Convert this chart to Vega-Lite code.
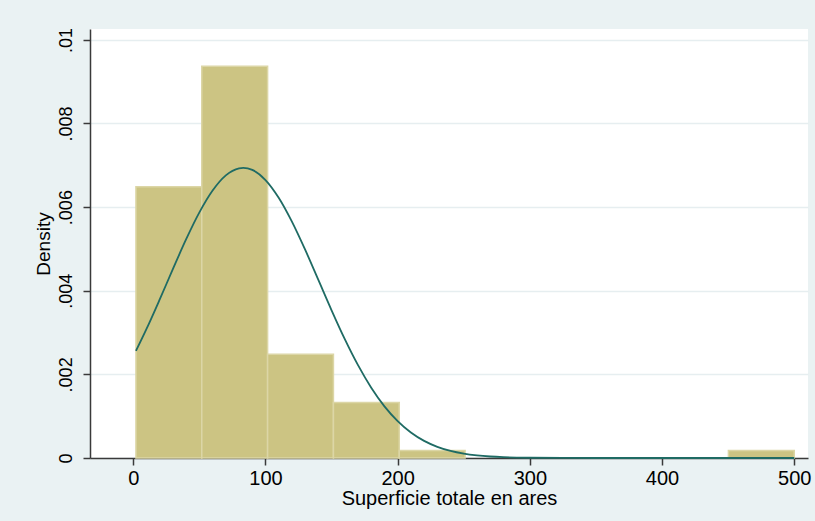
{
  "$schema": "https://vega.github.io/schema/vega-lite/v6.json",
  "width": 718,
  "height": 429,
  "autosize": {"type": "none"},
  "padding": {"left": 90, "top": 29, "right": 7, "bottom": 63},
  "background": "#EAF2F3",
  "config": {
    "view": {"stroke": null, "fill": "white"},
    "font": "Liberation Sans",
    "axis": {
      "domainColor": "#3a3a3a",
      "domainWidth": 1.5,
      "tickColor": "#3a3a3a",
      "tickWidth": 1.5,
      "tickSize": 7,
      "labelColor": "#000000",
      "titleColor": "#000000",
      "titleFontWeight": "normal",
      "labelFont": "Liberation Sans",
      "titleFont": "Liberation Sans"
    }
  },
  "datasets": {
    "bars": [
      {"bin_start": 2, "bin_end": 51.8, "density": 0.00649},
      {"bin_start": 51.8, "bin_end": 101.6, "density": 0.00937},
      {"bin_start": 101.6, "bin_end": 151.4, "density": 0.00248},
      {"bin_start": 151.4, "bin_end": 201.2, "density": 0.00133},
      {"bin_start": 201.2, "bin_end": 251, "density": 0.00018},
      {"bin_start": 450.2, "bin_end": 500, "density": 0.00018}
    ],
    "curve": [
      {"x": 2, "y": 0.002560},
      {"x": 10, "y": 0.003086},
      {"x": 20, "y": 0.003792},
      {"x": 30, "y": 0.004522},
      {"x": 40, "y": 0.005232},
      {"x": 50, "y": 0.005873},
      {"x": 60, "y": 0.006396},
      {"x": 70, "y": 0.006758},
      {"x": 80, "y": 0.006927},
      {"x": 83.2, "y": 0.006938},
      {"x": 90, "y": 0.006890},
      {"x": 100, "y": 0.006648},
      {"x": 110, "y": 0.006224},
      {"x": 120, "y": 0.005653},
      {"x": 130, "y": 0.004982},
      {"x": 140, "y": 0.004259},
      {"x": 150, "y": 0.003533},
      {"x": 160, "y": 0.002843},
      {"x": 170, "y": 0.002220},
      {"x": 180, "y": 0.001682},
      {"x": 190, "y": 0.001236},
      {"x": 200, "y": 0.000882},
      {"x": 210, "y": 0.000610},
      {"x": 220, "y": 0.000409},
      {"x": 230, "y": 0.000267},
      {"x": 240, "y": 0.000168},
      {"x": 250, "y": 0.000103},
      {"x": 260, "y": 0.0000614},
      {"x": 270, "y": 0.0000354},
      {"x": 280, "y": 0.0000198},
      {"x": 290, "y": 0.0000108},
      {"x": 300, "y": 0.0000057},
      {"x": 325, "y": 0.0000010},
      {"x": 350, "y": 0.0000001},
      {"x": 400, "y": 0},
      {"x": 450, "y": 0},
      {"x": 500, "y": 0}
    ]
  },
  "layer": [
    {
      "data": {"name": "bars"},
      "mark": {"type": "rect", "fill": "#CCC483", "stroke": "#DCD6A6", "strokeWidth": 1.5},
      "encoding": {
        "x": {
          "field": "bin_start",
          "type": "quantitative",
          "scale": {"domain": [-32.75, 510.4], "nice": false, "zero": false},
          "axis": {
            "values": [0, 100, 200, 300, 400, 500],
            "grid": false,
            "labelFontSize": 20,
            "labelPadding": 3,
            "title": "Superficie totale en ares",
            "titleFontSize": 20,
            "titlePadding": 0
          }
        },
        "x2": {"field": "bin_end"},
        "y": {
          "field": "density",
          "type": "quantitative",
          "scale": {"domain": [0, 0.01026], "nice": false},
          "axis": {
            "values": [0, 0.002, 0.004, 0.006, 0.008, 0.01],
            "grid": true,
            "gridColor": "#E6EEF0",
            "gridWidth": 1.5,
            "labelExpr": "datum.value == 0 ? '0' : slice(format(datum.value, '.3~f'), 1)",
            "labelAngle": -90,
            "labelAlign": "center",
            "labelBaseline": "bottom",
            "labelFontSize": 18,
            "labelPadding": 8,
            "title": "Density",
            "titleFontSize": 19,
            "titlePadding": 4
          }
        },
        "y2": {"datum": 0}
      }
    },
    {
      "data": {"name": "curve"},
      "mark": {"type": "line", "color": "#1F6B64", "strokeWidth": 1.8, "interpolate": "monotone"},
      "encoding": {
        "x": {"field": "x", "type": "quantitative"},
        "y": {"field": "y", "type": "quantitative"}
      }
    }
  ]
}
